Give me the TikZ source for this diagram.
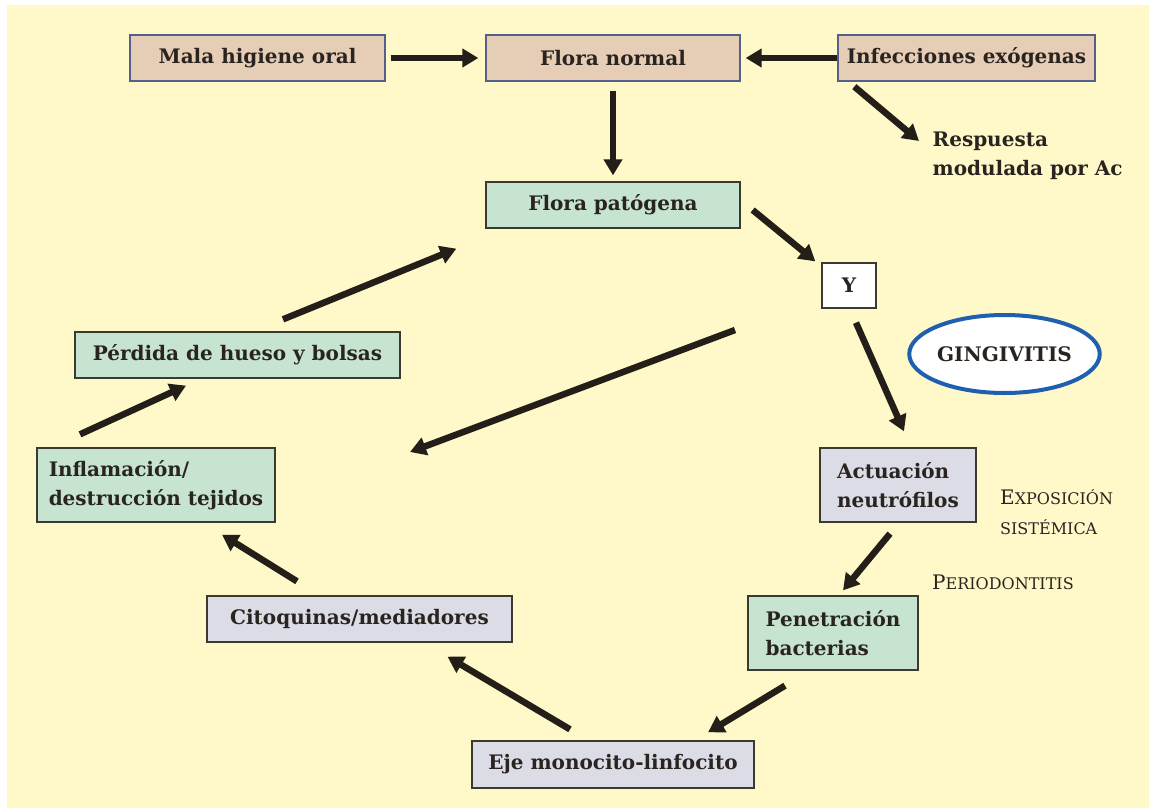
\documentclass[tikz,border=0pt]{standalone}
\usepackage{fontspec}
\setmainfont{DejaVu Serif}
\usetikzlibrary{arrows.meta,calc,shapes.geometric}
\definecolor{bgyellow}{HTML}{FFF8C8}
\definecolor{tanfill}{HTML}{E6CDB6}
\definecolor{tanedge}{HTML}{55608A}
\definecolor{greenfill}{HTML}{C6E4D0}
\definecolor{grayfill}{HTML}{DCDCE6}
\definecolor{boxedge}{HTML}{3A3A30}
\definecolor{arrowcol}{HTML}{241E18}
\definecolor{txtcol}{HTML}{2A2420}
\definecolor{ellblue}{HTML}{1F5FB0}
\tikzset{
  box/.style={draw=boxedge, line width=1.3pt, inner sep=0pt, font=\fontsize{20}{29}\selectfont\bfseries, text=txtcol},
  tanbox/.style={box, fill=tanfill, draw=tanedge},
  greenbox/.style={box, fill=greenfill},
  graybox/.style={box, fill=grayfill},
  whitebox/.style={box, fill=white},
  arr/.style={draw=arrowcol, line width=6.5pt, -{Triangle[length=16pt,width=18pt]}},
  sctext/.style={font=\fontsize{16}{30}\selectfont, text=txtcol, align=left, inner sep=0pt}
}
\begin{document}
\begin{tikzpicture}[x=1pt,y=-1pt]
\useasboundingbox (0,0) rectangle (1149,808);
\fill[white] (0,0) rectangle (1149,808);
\fill[bgyellow] (7,5) rectangle (1149,808);

% top row
\node[tanbox, minimum width=255pt, minimum height=46pt] (mala) at (257.5,58) {Mala higiene oral};
\node[tanbox, minimum width=254pt, minimum height=46pt] (flora) at (613,58) {Flora normal};
\node[tanbox, minimum width=257pt, minimum height=46pt] (infe) at (966.5,58) {Infecciones exógenas};

\node[box, draw=none, align=left, anchor=west] (resp) at (932,156) {Respuesta\\modulada por Ac};

\node[greenbox, minimum width=254pt, minimum height=46pt] (patog) at (613,205) {Flora patógena};
\node[whitebox, minimum width=54pt, minimum height=45pt] (y) at (849,285.5) {Y};

\node[ellipse, draw=ellblue, line width=4pt, fill=white, minimum width=181pt, minimum height=78pt, inner sep=0pt, font=\fontsize{20}{24}\selectfont\bfseries, text=txtcol] (ging) at (1004.5,354) {GINGIVITIS};

\node[graybox, minimum width=156pt, minimum height=74pt, align=left] (act) at (898,485) {Actuación\\neutrófilos};
\node[sctext, anchor=west] (expo) at (1000,512) {{\fontsize{20}{30}\selectfont E}XPOSICIÓN\\SISTÉMICA};
\node[sctext, anchor=west] (perio) at (932,582) {{\fontsize{20}{30}\selectfont P}ERIODONTITIS};

\node[greenbox, minimum width=170pt, minimum height=74pt, align=left] (pen) at (833,633) {Penetración\\bacterias};
\node[graybox, minimum width=282pt, minimum height=47pt] (eje) at (613,764.5) {Eje monocito-linfocito};
\node[graybox, minimum width=305pt, minimum height=46pt] (cito) at (359.5,619) {Citoquinas/mediadores};
\node[greenbox, minimum width=238pt, minimum height=74pt, align=left] (infl) at (156,485) {Inflamación/\\destrucción tejidos};
\node[greenbox, minimum width=325pt, minimum height=46pt] (perd) at (237.5,355) {Pérdida de hueso y bolsas};

\coordinate (freeA) at (735,330);
\coordinate (freeB) at (410,452);

% arrows
\draw[arr] ($(mala.east)+(5,0)$) -- ($(flora.west)+(-7,0)$);
\draw[arr] (infe.west) -- ($(flora.east)+(5,0)$);
\draw[arr] ($(flora.south)+(0,9)$) -- ($(patog.north)+(0,-6)$);
\draw[arr] ($(infe.south west)+(17,5)$) -- ($(resp.west)+(-13,-15)$);
\draw[arr] ($(patog.east)+(12,5)$) -- ($(y.north west)+(-6,-1)$);
\draw[arr] ($(y.south)+(7,14)$) -- ($(act.north)+(6,-16)$);
\draw[arr] ($(act.south)+(-8,11)$) -- ($(pen.north)+(10,-5)$);
\draw[arr] ($(pen.south)+(-48,15)$) -- ($(eje.north)+(95,-8)$);
\draw[arr] ($(eje.north)+(-43,-11)$) -- ($(cito.south)+(88,14)$);
\draw[arr] ($(cito.north)+(-62.5,-14)$) -- ($(infl.south)+(66,12)$);
\draw[arr] ($(infl.north)+(-76,-13)$) -- ($(perd.south)+(-51.5,7)$);
\draw[arr] ($(perd.north)+(45.5,-12)$) -- ($(patog.south west)+(-29,20)$);
\draw[arr] (freeA) -- (freeB);
\end{tikzpicture}
\end{document}
